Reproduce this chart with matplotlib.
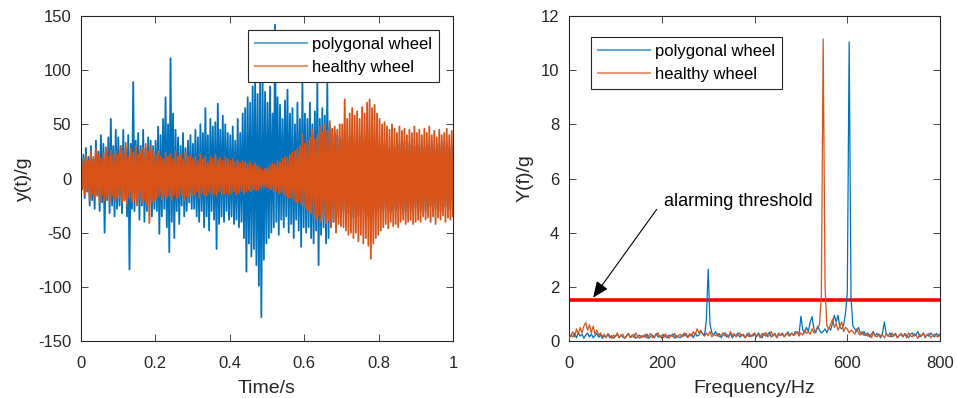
import numpy as np
import matplotlib.pyplot as plt

plt.rcParams['font.family'] = ['Liberation Sans', 'DejaVu Sans']
plt.rcParams['axes.unicode_minus'] = False

# Time-domain peaks (alternating + / - extremes)
poly_time = [
    15, -10, 22, -18, 28, -12, 20, -25, 30, -20, 18, -28, 35, -15, 25, -30, 40, -22, 32, -50, 28, -20, 38, -32, 55, -25, 30, -35, 45, -28,
    38, -25, 30, -32, 45, -20, 28, -35, 40, -84, 32, -28, 89, -30, 35, -22, 42, -38, 30, -25, 45, -40, 28, -30, 38, -22, 35, -35, 30, -28,
    35, -30, 48, -51, 40, -35, 55, -28, 75, -45, 50, -68, 111, -40, 60, -55, 45, -30, 38, -42, 30, -25, 42, -35, 28, -30, 35, -22, 40, -28,
    32, -28, 45, -35, 38, -40, 50, -30, 42, -45, 65, -35, 40, -48, 55, -30, 48, -38, 52, -65, 69, -42, 45, -35, 58, -40, 50, -30, 42, -38,
    40, -35, 48, -42, 35, -38, 55, -45, 42, -40, 60, -55, 65, -86, 75, -60, 70, -72, 85, -65, 90, -80, 78, -99, 95, -128, 88, -75, 80, -60,
    70, -55, 85, -50, 60, -45, 142, -40, 75, -52, 68, -38, 55, -45, 72, -35, 82, -50, 60, -42, 65, -55, 50, -38, 70, -48, 55, -63, 88, -45,
    60, -50, 55, -45, 70, -55, 50, -60, 62, -48, 88, -80, 55, -52, 65, -45, 58, -60, 88, -55, 50, -45, 45, -40, 42, -38, 40, -35, 38, -35,
    35, -30, 40, -35, 30, -32, 38, -28, 42, -36, 32, -30, 36, -34, 40, -30, 34, -28, 38, -32, 30, -35, 36, -30, 40, -28, 34, -32, 38, -30,
    30, -28, 35, -30, 32, -26, 36, -30, 28, -32, 34, -28, 30, -30, 36, -26, 32, -28, 30, -32, 34, -30, 28, -26, 32, -30, 36, -28, 30, -26,
    32, -28, 30, -30, 34, -26, 28, -30, 32, -28, 30, -26, 34, -30, 28, -28, 32, -26, 30, -30, 34, -28, 30, -26, 32, -30, 28, -28, 30, -26,
]
healthy_time = [
    12, -10, 18, -15, 22, -12, 16, -20, 25, -14, 20, -18, 28, -16, 22, -22, 18, -15, 24, -20, 29, -18, 20, -23, 26, -16, 22, -20, 25, -18,
    22, -18, 30, -22, 25, -20, 33, -24, 20, -18, 28, -22, 24, -20, 30, -25, 22, -18, 26, -22, 28, -20, 32, -24, 25, -41, 30, -22, 26, -20,
    22, -18, 25, -16, 20, -20, 18, -15, 24, -18, 20, -16, 22, -20, 18, -15, 25, -18, 20, -17, 22, -15, 18, -20, 24, -16, 20, -18, 22, -15,
    18, -15, 20, -12, 16, -18, 22, -14, 18, -15, 20, -16, 15, -13, 20, -15, 18, -14, 22, -16, 17, -12, 19, -15, 16, -14, 20, -13, 18, -15,
    16, -14, 18, -12, 15, -15, 17, -13, 14, -12, 16, -14, 15, -12, 13, -11, 15, -12, 12, -10, 14, -11, 12, -10, 10, -9, 8, -7, 9, -8,
    10, -9, 12, -10, 14, -12, 13, -11, 16, -14, 15, -13, 18, -15, 20, -16, 19, -18, 22, -18, 24, -20, 25, -22, 28, -21, 30, -24, 41, -25,
    32, -28, 35, -30, 38, -32, 45, -35, 36, -38, 40, -34, 48, -40, 42, -36, 50, -42, 44, -38, 53, -45, 46, -40, 48, -50, 45, -42, 50, -44,
    50, -45, 73, -48, 55, -52, 60, -50, 65, -55, 58, -50, 62, -58, 55, -52, 66, -60, 60, -55, 70, -62, 73, -74, 65, -60, 68, -55, 60, -52,
    55, -48, 50, -45, 52, -42, 48, -46, 45, -40, 50, -44, 46, -42, 42, -45, 48, -40, 44, -38, 46, -42, 40, -40, 45, -38, 42, -42, 48, -40,
    42, -38, 45, -40, 40, -35, 46, -38, 42, -36, 48, -40, 40, -35, 44, -42, 38, -36, 45, -38, 40, -34, 42, -40, 46, -36, 40, -38, 44, -35,
]

# Spectrum amplitudes, 4 Hz apart from 0 to 800 Hz
poly_spec = [
    0.10, 0.22, 0.15, 0.28, 0.12, 0.30, 0.18, 0.25, 0.10, 0.22, 0.30, 0.15, 0.26, 0.12, 0.20, 0.28, 0.14, 0.22, 0.10, 0.18,
    0.15, 0.25, 0.12, 0.20, 0.10, 0.18, 0.26, 0.12, 0.22, 0.15, 0.10, 0.20, 0.28, 0.12, 0.18, 0.25, 0.10, 0.16, 0.22, 0.12,
    0.20, 0.14, 0.26, 0.10, 0.18, 0.22, 0.12, 0.28, 0.15, 0.20, 0.10, 0.24, 0.16, 0.12, 0.22, 0.18, 0.26, 0.10, 0.20, 0.15,
    0.12, 0.22, 0.18, 0.28, 0.14, 0.20, 0.25, 0.12, 0.30, 0.18, 0.22, 0.35, 0.28, 0.20, 0.75, 2.65, 0.60, 0.30, 0.22, 0.35,
    0.18, 0.28, 0.12, 0.22, 0.30, 0.15, 0.20, 0.26, 0.12, 0.22, 0.18, 0.30, 0.14, 0.24, 0.20, 0.12, 0.28, 0.16, 0.22, 0.18,
    0.25, 0.15, 0.30, 0.20, 0.12, 0.28, 0.18, 0.24, 0.32, 0.15, 0.22, 0.28, 0.12, 0.26, 0.20, 0.30, 0.16, 0.24, 0.34, 0.20,
    0.28, 0.22, 0.35, 0.30, 0.25, 0.92, 0.40, 0.30, 0.50, 0.35, 0.70, 0.90, 0.45, 0.30, 0.55, 0.40, 0.30, 0.35, 0.45, 0.30,
    0.50, 0.40, 0.65, 0.95, 0.70, 0.95, 0.50, 0.45, 0.60, 1.00, 1.80, 11.05, 1.60, 0.55, 0.45, 0.35, 0.50, 0.30, 0.25, 0.35,
    0.20, 0.30, 0.15, 0.25, 0.35, 0.18, 0.28, 0.22, 0.12, 0.30, 0.70, 0.25, 0.18, 0.30, 0.15, 0.22, 0.28, 0.12, 0.20, 0.25,
    0.15, 0.28, 0.20, 0.12, 0.25, 0.30, 0.18, 0.22, 0.35, 0.15, 0.20, 0.28, 0.12, 0.25, 0.18, 0.30, 0.22, 0.15, 0.28, 0.20, 0.25,
]
healthy_spec = [
    0.08, 0.20, 0.35, 0.15, 0.45, 0.25, 0.50, 0.30, 0.55, 0.68, 0.40, 0.60, 0.30, 0.55, 0.25, 0.40, 0.20, 0.30, 0.15, 0.25,
    0.12, 0.28, 0.18, 0.10, 0.22, 0.15, 0.30, 0.12, 0.20, 0.25, 0.10, 0.18, 0.28, 0.14, 0.22, 0.12, 0.30, 0.18, 0.10, 0.20,
    0.15, 0.25, 0.10, 0.20, 0.28, 0.12, 0.18, 0.22, 0.30, 0.14, 0.20, 0.12, 0.26, 0.18, 0.10, 0.22, 0.15, 0.28, 0.12, 0.20,
    0.25, 0.15, 0.30, 0.20, 0.12, 0.28, 0.18, 0.35, 0.22, 0.45, 0.30, 0.40, 0.25, 0.18, 0.30, 0.20, 0.35, 0.15, 0.25, 0.20,
    0.28, 0.15, 0.22, 0.30, 0.18, 0.25, 0.12, 0.35, 0.20, 0.28, 0.15, 0.22, 0.30, 0.18, 0.25, 0.12, 0.20, 0.30, 0.15, 0.24,
    0.30, 0.18, 0.25, 0.12, 0.28, 0.20, 0.32, 0.15, 0.22, 0.35, 0.18, 0.26, 0.12, 0.30, 0.20, 0.25, 0.15, 0.28, 0.22, 0.18,
    0.30, 0.20, 0.25, 0.35, 0.18, 0.30, 0.22, 0.40, 0.28, 0.35, 0.25, 0.45, 0.30, 0.38, 0.50, 0.60, 1.70, 11.15, 2.00, 0.55,
    0.45, 0.60, 0.80, 0.50, 0.65, 0.40, 0.55, 0.70, 0.35, 0.50, 0.45, 0.30, 0.40, 0.35, 0.25, 0.45, 0.30, 0.22, 0.35, 0.20,
    0.28, 0.18, 0.25, 0.12, 0.30, 0.20, 0.15, 0.26, 0.18, 0.22, 0.12, 0.28, 0.20, 0.15, 0.30, 0.18, 0.25, 0.12, 0.22, 0.28,
    0.18, 0.25, 0.12, 0.30, 0.20, 0.15, 0.28, 0.22, 0.10, 0.25, 0.18, 0.30, 0.15, 0.22, 0.28, 0.12, 0.20, 0.25, 0.18, 0.15, 0.22,
]
threshold = 1.5
labels = ['polygonal wheel', 'healthy wheel']

t = np.linspace(0, 1, len(poly_time))
f = np.linspace(0, 800, len(poly_spec))

blue = '#0072BD'
orange = '#D95319'
dark = '#262626'

fig = plt.figure(figsize=(9.57, 3.98), dpi=100)
ax1 = fig.add_axes([0.0846, 0.1432, 0.3887, 0.8166])
ax2 = fig.add_axes([0.5946, 0.1432, 0.3877, 0.8166])

ax1.plot(t, poly_time, color=blue, lw=1.3, label=labels[0])
ax1.plot(t, healthy_time, color=orange, lw=1.3, label=labels[1])
ax1.set_xlim(0, 1)
ax1.set_ylim(-150, 150)
ax1.set_xticks([0, 0.2, 0.4, 0.6, 0.8, 1])
ax1.set_xticklabels(['0', '0.2', '0.4', '0.6', '0.8', '1'])
ax1.set_yticks(range(-150, 151, 50))
ax1.set_xlabel('Time/s', fontsize=14, labelpad=6)
ax1.set_ylabel('y(t)/g', fontsize=14, labelpad=4)

ax2.axhline(threshold, color='#FF0000', lw=2.6, zorder=1)
ax2.plot(f, poly_spec, color=blue, lw=0.9, label=labels[0], zorder=2)
ax2.plot(f, healthy_spec, color=orange, lw=0.9, label=labels[1], zorder=3)
ax2.set_xlim(0, 800)
ax2.set_ylim(0, 12)
ax2.set_xticks(range(0, 801, 200))
ax2.set_yticks(range(0, 13, 2))
ax2.set_xlabel('Frequency/Hz', fontsize=14, labelpad=6)
ax2.set_ylabel('Y(f)/g', fontsize=14, labelpad=5)
ax2.text(205, 5.0, 'alarming threshold', fontsize=13, color='black',
         ha='left', va='baseline')
ax2.annotate('', xy=(52, 1.6), xytext=(189, 4.86),
             arrowprops=dict(arrowstyle='-|>,head_length=0.75,head_width=0.32',
                             mutation_scale=13, color='black', lw=0.8,
                             shrinkA=0, shrinkB=0))

for ax in (ax1, ax2):
    ax.tick_params(direction='in', length=5, width=0.6, colors=dark,
                   labelsize=12, top=True, right=True, pad=7)
    ax.tick_params(axis='x', pad=11)
    for sp in ax.spines.values():
        sp.set_color(dark)
        sp.set_linewidth(0.8)
    ax.xaxis.label.set_color(dark)
    ax.yaxis.label.set_color(dark)

leg1 = ax1.legend(loc='upper right', bbox_to_anchor=(0.962, 0.957), fontsize=12,
                  handlelength=3.1, fancybox=False, framealpha=1, borderpad=0.42,
                  labelspacing=0.48, handletextpad=0.3, borderaxespad=0)
leg2 = ax2.legend(loc='upper left', bbox_to_anchor=(0.06, 0.935), fontsize=12,
                  handlelength=3.1, fancybox=False, framealpha=1, borderpad=0.42,
                  labelspacing=0.48, handletextpad=0.3, borderaxespad=0)
for leg in (leg1, leg2):
    leg.get_frame().set_edgecolor(dark)
    leg.get_frame().set_linewidth(0.8)
    for ln in leg.get_lines():
        ln.set_alpha(0.6)
        ln.set_linewidth(1.5)

plt.savefig('out.png', dpi=100)
